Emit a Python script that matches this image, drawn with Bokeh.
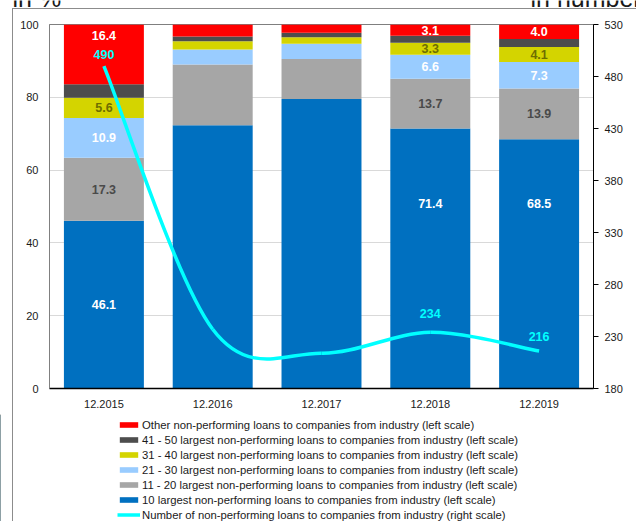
from bokeh.plotting import figure
from bokeh.layouts import column
from bokeh.models import (Range1d, LinearAxis, FixedTicker, Legend, LegendItem,
                          ColumnDataSource, Label)
from bokeh.core.properties import value
from bokeh.embed import file_html
from bokeh.resources import INLINE

# ---------------- data ----------------
categories = ["12.2015", "12.2016", "12.2017", "12.2018", "12.2019"]
top10 = [46.1, 72.3, 79.5, 71.4, 68.5]
r11_20 = [17.3, 16.7, 11.0, 13.7, 13.9]
r21_30 = [10.9, 4.1, 4.2, 6.6, 7.3]
r31_40 = [5.6, 2.3, 1.8, 3.3, 4.1]
r41_50 = [3.7, 1.3, 1.2, 1.9, 2.2]
other = [16.4, 3.3, 2.3, 3.1, 4.0]
npl_count = [490, 237, 214, 234, 216]

series_names = [
    "10 largest non-performing loans to companies from industry (left scale)",
    "11 - 20 largest non-performing loans to companies from industry (left scale)",
    "21 - 30 largest non-performing loans to companies from industry (left scale)",
    "31 - 40 largest non-performing loans to companies from industry (left scale)",
    "41 - 50 largest non-performing loans to companies from industry (left scale)",
    "Other non-performing loans to companies from industry (left scale)",
]
line_name = "Number of non-performing loans to companies from industry (right scale)"
left_unit = "in %"
right_unit = "in number"

# ---------------- style ----------------
FONT = "Liberation Sans"
W = 636
colors = ["#0070C0", "#A6A6A6", "#99CCFF", "#D4D400", "#4D4D4D", "#FF0000"]
line_color = "#00FFFF"
label_colors = ["#FFFFFF", "#4A4A4A", "#FFFFFF", "#6E6E00", None, "#FFFFFF"]
labelled_cats = [0, 3, 4]
label_pos_override = {(5, 0): 97.0, (0, 3): 50.8, (0, 4): 50.8}
count_label_offset = {0: -12, 3: -19, 4: -15}
FRAME = "#8C8C8C"
vline_bg = "linear-gradient(%s, %s) 12px 0px / 1px 2000px no-repeat, white" % (FRAME, FRAME)
top_bg = ("linear-gradient(%s, %s) 12px 8px / 1px 2000px no-repeat, "
          "linear-gradient(%s, %s) 12px 8px / 2000px 1px no-repeat, white") % (FRAME, FRAME, FRAME, FRAME)


def bare(fig):
    fig.xaxis.visible = False
    fig.yaxis.visible = False
    fig.grid.visible = False
    fig.outline_line_color = None
    fig.background_fill_alpha = 0
    fig.border_fill_alpha = 0
    fig.min_border = 0
    fig.min_border_left = 0
    fig.min_border_right = 0
    fig.min_border_top = 0
    fig.min_border_bottom = 0
    fig.frame_align = False


# ---------------- header strip (unit captions, cut by the top edge) ----------------
hdr = figure(width=W, height=16, x_range=Range1d(0, 1), y_range=Range1d(0, 1),
             output_backend="svg", toolbar_location=None, title=None,
             x_axis_location=None, y_axis_location=None)
bare(hdr)
hdr.styles = {"background": top_bg}
hdr.add_layout(Label(x=12, y=19, x_units="screen", y_units="screen", text=left_unit,
                     text_font=FONT, text_font_size="25px", text_color="#1A1A1A",
                     text_baseline="alphabetic"))
hdr.add_layout(Label(x=530, y=19, x_units="screen", y_units="screen", text=right_unit,
                     text_font=FONT, text_font_size="25px", text_color="#1A1A1A",
                     text_baseline="alphabetic"))

# ---------------- main chart ----------------
stack = [top10, r11_20, r21_30, r31_40, r41_50, other]
keys = ["s%d" % i for i in range(len(stack))]
xs = [i + 0.5 for i in range(len(categories))]
src = ColumnDataSource(dict(x=xs, **{k: v for k, v in zip(keys, stack)}))

p = figure(width=W, height=398, x_range=Range1d(0, len(categories)),
           y_range=Range1d(0, 100), output_backend="svg", toolbar_location=None,
           title=None, min_border_left=49, min_border_right=43,
           min_border_top=8, min_border_bottom=26)
p.frame_align = False
p.styles = {"background": vline_bg}
p.background_fill_color = "white"
p.border_fill_alpha = 0
p.outline_line_color = "#7F7F7F"
p.outline_line_width = 1
p.extra_y_ranges = {"num": Range1d(180, 530)}

bars = p.vbar_stack(keys, x="x", width=0.735, color=colors, line_color=None,
                    source=src)

# smoothed line for the count series (Catmull-Rom -> cubic Bezier)
n = len(npl_count)
bz = dict(x0=[], y0=[], x1=[], y1=[], cx0=[], cy0=[], cx1=[], cy1=[])
for i in range(n - 1):
    xp, yp = (xs[i - 1], npl_count[i - 1]) if i > 0 else (xs[i], npl_count[i])
    xn, yn = (xs[i + 2], npl_count[i + 2]) if i + 2 < n else (xs[i + 1], npl_count[i + 1])
    bz["x0"].append(xs[i]); bz["y0"].append(npl_count[i])
    bz["x1"].append(xs[i + 1]); bz["y1"].append(npl_count[i + 1])
    bz["cx0"].append(xs[i] + (xs[i + 1] - xp) / 6)
    bz["cy0"].append(npl_count[i] + (npl_count[i + 1] - yp) / 6)
    bz["cx1"].append(xs[i + 1] - (xn - xs[i]) / 6)
    bz["cy1"].append(npl_count[i + 1] - (yn - npl_count[i]) / 6)
p.bezier(x0="x0", y0="y0", x1="x1", y1="y1", cx0="cx0", cy0="cy0",
         cx1="cx1", cy1="cy1", source=ColumnDataSource(bz),
         line_color=line_color, line_width=3.5, y_range_name="num")

# bar value labels
lx, ly, lt, lc = [], [], [], []
for si, ser in enumerate(stack):
    if label_colors[si] is None:
        continue
    for ci in labelled_cats:
        base = sum(stack[k][ci] for k in range(si))
        y = label_pos_override.get((si, ci), base + ser[ci] / 2)
        lx.append(xs[ci]); ly.append(y); lt.append("%.1f" % ser[ci]); lc.append(label_colors[si])
p.text(x="x", y="y", text="t", text_color="c",
       source=ColumnDataSource(dict(x=lx, y=ly, t=lt, c=lc)),
       text_font=value(FONT), text_font_style="bold", text_font_size="12.5px",
       text_align="center", text_baseline="middle")

# count labels
cx, cy, ct, co = [], [], [], []
for ci, off in count_label_offset.items():
    cx.append(xs[ci]); cy.append(npl_count[ci]); ct.append(str(npl_count[ci])); co.append(off)
p.text(x="x", y="y", text="t", y_offset="o",
       source=ColumnDataSource(dict(x=cx, y=cy, t=ct, o=co)),
       text_color=line_color, text_font=value(FONT), text_font_style="bold",
       text_font_size="12.5px", text_align="center", text_baseline="middle",
       y_range_name="num")

# axes
p.xgrid.visible = False
p.ygrid.grid_line_color = "#D9D9D9"
p.ygrid.grid_line_width = 1
p.ygrid.ticker = FixedTicker(ticks=[20, 40, 60, 80])

xa = p.xaxis[0]
xa.ticker = FixedTicker(ticks=xs)
xa.major_label_overrides = {x: c for x, c in zip(xs, categories)}
xa.major_tick_out = 0
xa.major_tick_in = 0
xa.minor_tick_out = 0
xa.minor_tick_in = 0
xa.axis_line_color = "#000000"
xa.axis_line_width = 1.5
xa.major_label_standoff = 11
xa.major_label_text_font = FONT
xa.major_label_text_font_size = "11px"
xa.major_label_text_color = "#1A1A1A"

ya = p.yaxis[0]
ya.ticker = FixedTicker(ticks=[0, 20, 40, 60, 80, 100])
ya.major_tick_out = 0
ya.major_tick_in = 0
ya.minor_tick_out = 0
ya.minor_tick_in = 0
ya.axis_line_color = "#808080"
ya.major_label_standoff = 11
ya.major_label_text_font = FONT
ya.major_label_text_font_size = "11px"
ya.major_label_text_color = "#1A1A1A"

ra = LinearAxis(y_range_name="num", ticker=FixedTicker(ticks=list(range(180, 531, 50))))
ra.major_tick_out = 5
ra.major_tick_in = 0
ra.minor_tick_out = 0
ra.minor_tick_in = 0
ra.axis_line_color = "#000000"
ra.major_tick_line_color = "#000000"
ra.major_label_standoff = 6
ra.major_label_text_font = FONT
ra.major_label_text_font_size = "11px"
ra.major_label_text_color = "#1A1A1A"
p.add_layout(ra, "right")

# ---------------- legend strip ----------------
lg = figure(width=W, height=107, x_range=Range1d(0, 1), y_range=Range1d(0, 1),
            output_backend="svg", toolbar_location=None, title=None,
            x_axis_location=None, y_axis_location=None)
bare(lg)
lg.styles = {"background": vline_bg}
order = [5, 4, 3, 2, 1, 0]
items = []
# legend swatches (their marks sit outside the strip's visible range)
for i in order:
    r = lg.vbar(x=[-5], top=[1], width=1, color=colors[i], line_color=None)
    items.append(LegendItem(label=series_names[i], renderers=[r]))
rl = lg.line(x=[-5, -4], y=[0, 0], line_color=line_color, line_width=3.5)
items.append(LegendItem(label=line_name, renderers=[rl]))
legend = Legend(items=items, location=(117, 0), orientation="vertical",
                glyph_width=23, glyph_height=7, label_height=13, spacing=2,
                label_standoff=2, padding=0, margin=0, border_line_color=None,
                background_fill_alpha=0, label_text_font=FONT,
                label_text_font_size="11.3px", label_text_color="#1A1A1A")
lg.add_layout(legend)

layout = column(hdr, p, lg, spacing=0)
open("out.html", "w").write(file_html(layout, INLINE))
